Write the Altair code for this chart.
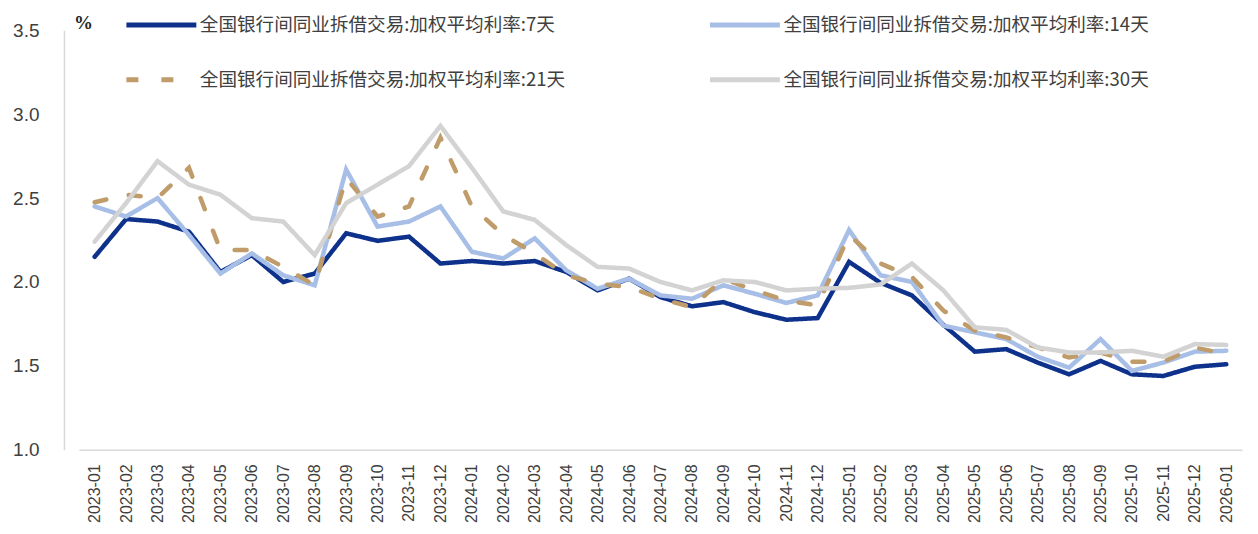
import altair as alt
import pandas as pd

months = ["2023-01", "2023-02", "2023-03", "2023-04", "2023-05", "2023-06", "2023-07",
          "2023-08", "2023-09", "2023-10", "2023-11", "2023-12", "2024-01", "2024-02",
          "2024-03", "2024-04", "2024-05", "2024-06", "2024-07", "2024-08", "2024-09",
          "2024-10", "2024-11", "2024-12", "2025-01", "2025-02", "2025-03", "2025-04",
          "2025-05", "2025-06", "2025-07", "2025-08", "2025-09", "2025-10", "2025-11",
          "2025-12", "2026-01"]

series_names = ["全国银行间同业拆借交易:加权平均利率:7天",
                "全国银行间同业拆借交易:加权平均利率:14天",
                "全国银行间同业拆借交易:加权平均利率:21天",
                "全国银行间同业拆借交易:加权平均利率:30天"]

rate_7d = [2.15, 2.375, 2.36, 2.30, 2.06, 2.16, 2.00, 2.05, 2.29, 2.245, 2.27, 2.11,
           2.125, 2.11, 2.125, 2.06, 1.95, 2.02, 1.91, 1.855, 1.88, 1.82, 1.775, 1.785,
           2.12, 1.995, 1.92, 1.745, 1.585, 1.60, 1.52, 1.45, 1.53, 1.45, 1.44, 1.495, 1.51]
rate_14d = [2.45, 2.39, 2.50, 2.28, 2.05, 2.17, 2.04, 1.98, 2.67, 2.33, 2.36, 2.45,
            2.18, 2.14, 2.26, 2.07, 1.96, 2.02, 1.92, 1.90, 1.98, 1.93, 1.875, 1.92,
            2.31, 2.04, 2.00, 1.74, 1.70, 1.66, 1.555, 1.49, 1.66, 1.47, 1.52, 1.585, 1.59]
rate_21d = [2.475, 2.52, 2.50, 2.68, 2.19, 2.19, 2.09, 1.98, 2.62, 2.39, 2.45, 2.86,
            2.45, 2.28, 2.17, 2.04, 1.99, 1.97, 1.90, 1.85, 2.02, 1.95, 1.89, 1.86,
            2.28, 2.11, 2.03, 1.83, 1.71, 1.67, 1.61, 1.55, 1.58, 1.525, 1.525, 1.61, 1.57]
rate_30d = [2.24, 2.47, 2.72, 2.58, 2.52, 2.38, 2.36, 2.16, 2.47, 2.58, 2.69, 2.93,
            2.68, 2.42, 2.37, 2.22, 2.09, 2.08, 2.00, 1.95, 2.01, 2.00, 1.95, 1.96,
            1.965, 1.985, 2.11, 1.95, 1.73, 1.715, 1.61, 1.58, 1.58, 1.59, 1.555, 1.63, 1.625]

colors = ["#0e318c", "#a7bee7", "#bf9c69", "#d3d3d3"]
dashes = [[1, 0], [1, 0], [12, 23], [1, 0]]

rows = []
for name, vals in zip(series_names, [rate_7d, rate_14d, rate_21d, rate_30d]):
    for m, v in zip(months, vals):
        rows.append({"month": m, "series": name, "value": v})
df = pd.DataFrame(rows)

num_font = "Liberation Sans"
cjk_font = "Noto Sans CJK SC"

chart = alt.Chart(df).mark_line(strokeWidth=4.5, strokeCap="round", strokeJoin="miter").encode(
    x=alt.X("month:O", sort=months,
            scale=alt.Scale(type="point", range=[15, 1179]),
            axis=alt.Axis(title=None, labelAngle=-90, labelAlign="right", labelBaseline="middle",
                          labelPadding=14, ticks=False, tickSize=0, domainColor="#d9d9d9",
                          domainWidth=1.5, labelFont=num_font, labelFontSize=16,
                          labelColor="#404040", grid=False)),
    y=alt.Y("value:Q",
            scale=alt.Scale(domain=[1.0, 3.5], nice=False, zero=False),
            axis=alt.Axis(title="%", titleAngle=0, titleX=19, titleY=-8, titleAlign="center",
                          titleBaseline="middle", titleFont="Liberation Serif", titleFontWeight="bold",
                          titleFontSize=19, titleColor="#262626",
                          values=[1.0, 1.5, 2.0, 2.5, 3.0, 3.5], format=".1f",
                          labelFont=num_font, labelFontSize=19, labelColor="#404040",
                          labelPadding=25, ticks=False, tickSize=0, grid=False,
                          domainColor="#d9d9d9", domainWidth=1.5)),
    color=alt.Color("series:N", sort=series_names,
                    scale=alt.Scale(domain=series_names, range=colors),
                    legend=alt.Legend(title=None)),
    strokeDash=alt.StrokeDash("series:N", sort=series_names,
                              scale=alt.Scale(domain=series_names, range=dashes),
                              legend=alt.Legend(title=None)),
).properties(
    width=1187, height=420,
    padding={"left": 4, "top": 5, "right": 0, "bottom": 0},
).configure_view(
    stroke=None
).configure_legend(
    orient="none", legendX=88, legendY=-15, columns=2, direction="horizontal",
    symbolType="M-5,0L5,0", symbolSize=196, symbolStrokeWidth=5,
    labelFont=cjk_font, labelFontSize=18.6, labelColor="#404040", labelOffset=29,
    labelLimit=600, columnPadding=134, rowPadding=34, padding=0, gridAlign="each"
)

chart.save("out.html", embed_options={"renderer": "svg", "actions": False})
